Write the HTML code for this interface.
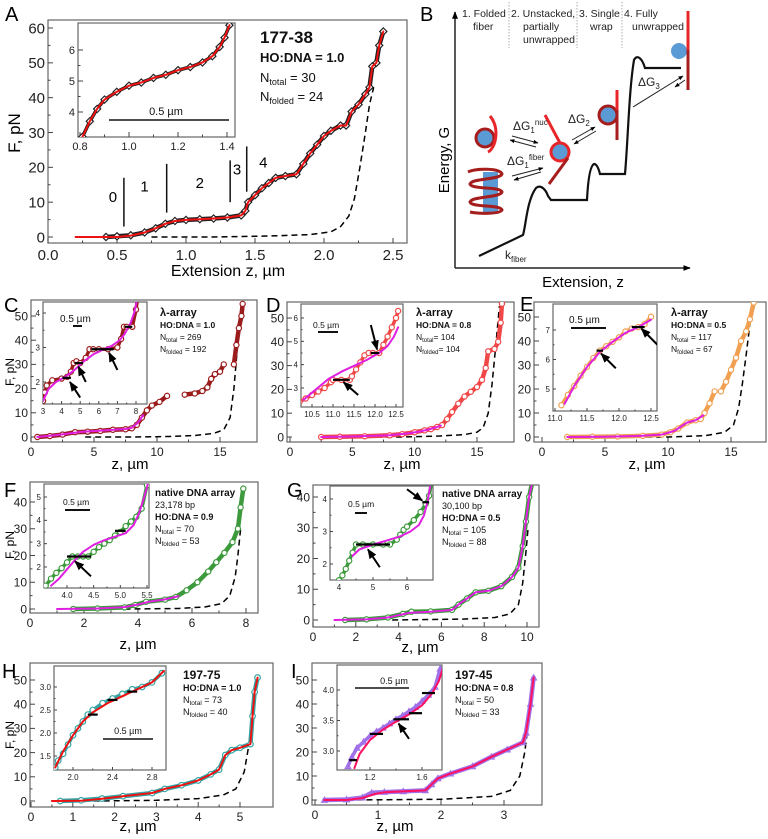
<!DOCTYPE html>
<html><head><meta charset="utf-8"><style>
html,body{margin:0;padding:0;background:#fff}
svg{display:block;font-family:"Liberation Sans",Arial,sans-serif}
</style></head><body>
<svg id="fig" width="768" height="839" viewBox="0 0 768 839" xmlns="http://www.w3.org/2000/svg">
<rect width="768" height="839" fill="#fff"/>
<defs>
<marker id="ah" viewBox="0 0 10 10" refX="9" refY="5" markerWidth="5" markerHeight="5" orient="auto"><path d="M0,1 L10,5 L0,9 z" fill="#000"/></marker>
</defs>
<g font-size="20" fill="#000">
<text x="5" y="21">A</text>
<text x="420" y="21">B</text>
<text x="4" y="312">C</text>
<text x="266" y="312">D</text>
<text x="520" y="311">E</text>
<text x="4" y="497">F</text>
<text x="287" y="497">G</text>
<text x="2" y="678">H</text>
<text x="291" y="678">I</text>
</g>
<g fill="#000">
<text x="228" y="276" font-size="16" text-anchor="middle">Extension z, µm</text>
<text transform="translate(20,133) rotate(-90)" font-size="17" text-anchor="middle">F, pN</text>
<text x="130" y="469" font-size="15" text-anchor="middle">z, µm</text>
<text x="402" y="469" font-size="15" text-anchor="middle">z, µm</text>
<text x="647" y="469" font-size="15" text-anchor="middle">z, µm</text>
<text transform="translate(14,372) rotate(-90)" font-size="12" text-anchor="middle">F, pN</text>
<text x="138" y="649" font-size="15" text-anchor="middle">z, µm</text>
<text x="420" y="652" font-size="15" text-anchor="middle">z, µm</text>
<text transform="translate(14,545) rotate(-90)" font-size="12" text-anchor="middle">F, pN</text>
<text x="138" y="831" font-size="15" text-anchor="middle">z, µm</text>
<text x="395" y="831" font-size="15" text-anchor="middle">z, µm</text>
<text transform="translate(14,735) rotate(-90)" font-size="12" text-anchor="middle">F, pN</text>
</g>

<g id="panelB">
<line x1="455" y1="268" x2="455" y2="12" stroke="#222" stroke-width="1.5" marker-end="url(#ah)"/>
<line x1="455" y1="268" x2="690" y2="268" stroke="#222" stroke-width="1.5" marker-end="url(#ah)"/>
<text transform="translate(449,160) rotate(-90)" font-size="15" text-anchor="middle">Energy, G</text>
<text x="583" y="287" font-size="15" text-anchor="middle">Extension, z</text>
<g stroke="#999" stroke-width="0.8" stroke-dasharray="1.5,1.5">
<line x1="509" y1="2" x2="509" y2="48"/><line x1="577" y1="2" x2="577" y2="48"/><line x1="622" y1="2" x2="622" y2="48"/>
</g>
<g font-size="10.5" fill="#222">
<text x="462" y="17">1. Folded</text><text x="473" y="30">fiber</text>
<text x="511" y="17">2. Unstacked,</text><text x="523" y="30">partially</text><text x="523" y="43">unwrapped</text>
<text x="579" y="17">3. Single</text><text x="590" y="30">wrap</text>
<text x="624" y="17">4. Fully</text><text x="632" y="30">unwrapped</text>
</g>
<path d="M479,256 L523,235 C526,225 527,200 536,188 C541,184 546,190 548,196 L551,200 L587,200 C588,180 590,166 594,164 C597,164 599,170 600,174 L625,174 C628,140 629,90 634,60 C637,54 642,58 645,68 L681,68" fill="none" stroke="#111" stroke-width="2.2"/>
<g>
<rect x="483" y="172" width="15" height="42" fill="#5b9bd5"/>
<path d="M468,172 C476,168 500,168 502,174 C500,180 472,178 470,184 C472,190 500,186 502,192 C500,198 472,196 470,202 C472,208 500,204 502,210 C500,214 480,214 470,212" fill="none" stroke="#a51d1d" stroke-width="3"/>
</g>
<g>
<circle cx="485" cy="138" r="9" fill="#5b9bd5" stroke="#a51d1d" stroke-width="3"/>
<path d="M490,116 C500,128 496,148 488,152" fill="none" stroke="#e8262a" stroke-width="3"/>
<circle cx="560" cy="152" r="9" fill="#5b9bd5" stroke="#e8262a" stroke-width="3"/>
<line x1="545" y1="115" x2="560" y2="143" stroke="#e8262a" stroke-width="3"/>
<line x1="568" y1="158" x2="549" y2="184" stroke="#a51d1d" stroke-width="3"/>
<circle cx="608" cy="115" r="9" fill="#5b9bd5" stroke="#a51d1d" stroke-width="3"/>
<line x1="617" y1="90" x2="617" y2="110" stroke="#e8262a" stroke-width="3"/>
<line x1="617" y1="110" x2="617" y2="140" stroke="#a51d1d" stroke-width="3"/>
<circle cx="679" cy="51" r="8" fill="#5b9bd5"/>
<line x1="688" y1="11" x2="688" y2="50" stroke="#e8262a" stroke-width="3"/>
<line x1="688" y1="50" x2="688" y2="90" stroke="#a51d1d" stroke-width="3"/>
</g>
<g stroke="#222" stroke-width="1">
<line x1="512" y1="136" x2="538" y2="143" marker-end="url(#ah)"/><line x1="536" y1="147" x2="510" y2="140" marker-end="url(#ah)"/>
<line x1="512" y1="176" x2="543" y2="168" marker-end="url(#ah)"/><line x1="541" y1="172" x2="514" y2="180" marker-end="url(#ah)"/>
<line x1="572" y1="140" x2="595" y2="127" marker-end="url(#ah)"/><line x1="596" y1="131" x2="574" y2="144" marker-end="url(#ah)"/>
<line x1="633" y1="107" x2="683" y2="76" marker-end="url(#ah)"/><line x1="685" y1="80" x2="675" y2="87" marker-end="url(#ah)"/>
</g>
<g font-size="12" fill="#222">
<text x="513" y="130">ΔG<tspan font-size="8" dy="3">1</tspan><tspan font-size="8" dy="-8">nuc</tspan></text>
<text x="507" y="165">ΔG<tspan font-size="8" dy="3">1</tspan><tspan font-size="8" dy="-8">fiber</tspan></text>
<text x="568" y="123">ΔG<tspan font-size="8" dy="3">2</tspan></text>
<text x="638" y="86">ΔG<tspan font-size="8" dy="3">3</tspan></text>
<text x="505" y="259">k<tspan font-size="8" dy="3">fiber</tspan></text>
</g>
</g>

<g id="plots"></g>
</svg>
<script>
// ===== DATA =====
const aDataX=[0.42,0.5,0.6,0.7,0.78,0.85,0.92,1.0,1.1,1.2,1.3,1.4,1.43,1.45,1.5,1.55,1.6,1.65,1.72,1.8,1.85,1.9,1.95,2.0,2.05,2.12,2.16,2.2,2.25,2.3,2.33,2.35,2.38,2.4,2.43];
const aDataY=[0,0.2,0.5,1.3,2.5,3.8,4.6,4.9,5.1,5.3,5.6,6.2,7.5,10,12,14,15.5,17,17.5,18,21,24,26.5,29,30.5,32,32,36,38,41,43,49,50,55,59];
const aFitX=[0.2,0.5,0.6,0.7,0.78,0.85,0.92,1.0,1.1,1.2,1.3,1.4,1.43,1.45,1.5,1.55,1.6,1.65,1.72,1.8,1.85,1.9,1.95,2.0,2.05,2.12,2.16,2.2,2.25,2.3,2.33,2.35,2.38,2.4,2.43];
const aFitY=[0,0,0.4,1.3,2.5,3.8,4.6,4.9,5.1,5.3,5.6,6.2,7.5,10,12,14,15.5,17,17.5,18,21,24,26.5,29,30.5,32,32,36,38,41,43,49,50,55,59];
const aWlcX=[0.75,1.2,1.6,1.9,2.05,2.12,2.18,2.22,2.26,2.3,2.33,2.36];
const aWlcY=[0,0,0.3,0.7,1.5,3,6,11,20,30,38,43];
const aInX=[0.81,0.84,0.87,0.9,0.95,1.0,1.05,1.1,1.15,1.2,1.25,1.3,1.34,1.37,1.39,1.41];
const aInY=[3.2,3.7,4.1,4.4,4.65,4.85,4.95,5.1,5.2,5.35,5.45,5.6,5.8,6.1,6.4,6.8];
const cDataX=[0.5,1.5,2.5,3.5,4.5,5.5,6.5,7.5,8,8.4,8.8,9.2,9.6,10.2,10.8,null,12.2,13,13.6,14,14.3,14.6,15,15.3,null,16.1,16.3,16.5,16.7,16.8];
const cDataY=[0,0.4,1,2,2.2,2.5,3,3.2,3.6,5,8,11,13,14.5,17,null,17.5,18,19,20.5,24,26,27,30,null,30,38,45,50,55];
const cFitX=[0.5,2,4,6,7.5,8,8.5,8.9];
const cFitY=[0,0.8,2.1,2.8,3.3,3.8,6,9];
const cWlcX=[4.3,8,11,13,14.5,15.3,15.8,16.1,16.3,16.5,16.7];
const cWlcY=[0,0,0.2,0.6,1.5,3,8,20,32,45,54];
const cInX=[3,3.1,3.2,3.5,4,4.3,4.5,4.65,4.8,5,5.3,5.5,5.7,6,6.5,7,7.2,7.35,7.5,7.8,8,8.1];
const cInY=[1.45,1.7,1.9,2.05,2.1,2.15,2.3,2.55,2.6,2.55,2.7,2.95,2.95,2.95,2.95,3.0,3.25,3.6,3.6,3.6,4.1,4.5];
const cInFitX=[3,3.3,3.7,4.2,4.7,5.2,5.7,6.2,6.7,7.1,7.4,7.7,7.9,8.1];
const cInFitY=[1.45,1.8,2.0,2.15,2.35,2.6,2.8,2.93,3.05,3.2,3.4,3.7,4.0,4.5];
const dDataX=[2.5,4,6,8,9,10,10.8,11.3,11.8,12.2,12.6,13,13.5,14,14.5,15,15.4,15.7,15.9,16.4,16.7,16.9,17];
const dDataY=[0,0.1,0.3,0.7,1.2,2,2.8,3.3,4.2,5,7.5,10.5,14,17,19,21,24,29,36,37,40,48,56];
const dFitX=[2.5,5,8,9.5,10.5,11.2,11.8,12.1];
const dFitY=[0,0.2,0.7,1.5,2.4,3.3,4.2,4.8];
const dWlcX=[4.5,9,12,14,15,15.5,15.9,16.2,16.5,16.8];
const dWlcY=[0,0,0.4,1,2,4,10,22,38,55];
const dInX=[10.2,10.35,10.5,10.65,10.8,10.95,11.0,11.2,11.4,11.45,11.55,11.65,11.75,11.85,11.95,12.1,12.2,12.3,12.4,12.5,12.55];
const dInY=[2.4,2.55,2.7,2.85,3.0,3.25,3.35,3.35,3.35,3.5,3.8,4.1,4.4,4.5,4.5,4.5,4.85,5.2,5.6,6.0,6.3];
const dInFitX=[10.3,10.6,10.9,11.2,11.5,11.8,12.1,12.3,12.45,12.55];
const dInFitY=[2.5,2.95,3.4,3.7,3.95,4.2,4.5,4.8,5.2,5.6];
const eDataX=[2,4,6,8,9.5,10.2,10.8,11.5,12.2,12.6,12.9,13.3,13.7,null,14.2,14.6,15,15.4,15.8,16.2,16.5,16.8];
const eDataY=[0,0.1,0.2,0.5,1,2,3.5,6,7,7.5,10,14,19,null,19,23,28,33,40,44,49,56];
const eFitX=[2,5,8,9.5,10.5,11.5,12.2,12.8];
const eFitY=[0,0.1,0.5,1,2.5,6,7,9];
const eWlcX=[4.3,10,13,14.5,15.2,15.6,15.9,16.2,16.5,16.8];
const eWlcY=[0,0,0.6,2,5,12,22,34,47,56];
const eInX=[11.1,11.2,11.3,11.4,11.5,11.6,11.7,11.8,11.9,12.0,12.1,12.2,12.3,12.4,12.5];
const eInY=[4.45,4.8,5.1,5.45,5.75,6.05,6.3,6.45,6.6,6.75,6.95,7.05,7.1,7.2,7.45];
const eInFitX=[11.15,11.3,11.5,11.7,11.9,12.1,12.3,12.5];
const eInFitY=[4.5,5.1,5.75,6.25,6.6,6.9,7.1,7.35];
const fDataX=[1.6,2.5,3.5,3.9,4.3,5,5.4,5.8,6.2,6.6,6.9,7.2,7.5,7.7,7.8,7.9];
const fDataY=[0,0.2,0.6,1.5,2.7,3.5,4.5,7,10,14,17.5,21,25,30,38,45];
const fFitX=[1,2.5,3.5,4,4.4,5,5.5];
const fFitY=[0,0.2,0.7,1.7,2.7,3.6,4.8];
const fWlcX=[3.5,5.5,6.5,7.1,7.4,7.6,7.7,7.8];
const fWlcY=[0,0.2,0.8,2,5,12,20,30];
const fInX=[3.6,3.7,3.8,3.9,4.0,4.1,4.2,4.3,4.4,4.5,4.6,4.7,4.8,4.9,5.0,5.1,5.2,5.3,5.4,5.5];
const fInY=[1.2,1.5,1.75,1.95,2.2,2.45,2.45,2.45,2.45,2.65,2.85,3.0,3.15,3.35,3.5,3.75,3.95,4.15,4.5,5.5];
const fInFitX=[3.7,3.85,4.0,4.15,4.3,4.5,4.7,4.9,5.1,5.25,5.35,5.45,5.52];
const fInFitY=[1.2,1.5,1.9,2.3,2.65,2.95,3.15,3.3,3.45,3.8,4.3,5.0,5.6];
const gDataX=[1.5,2.5,3.5,4.2,4.6,5.5,6.5,6.8,7.2,7.6,8.2,8.8,9.3,9.6,9.8,9.95,10.1,10.25];
const gDataY=[0,0.2,0.8,2,2.7,2.8,3.3,5,7,9,9.5,11,14,17,24,32,40,45];
const gFitX=[1,2.5,3.5,4.5,5.5,6.5,6.8,7.2,7.6,8.2,8.8,9.3,9.6,9.8,9.95,10.1,10.25];
const gFitY=[0,0.2,0.8,2.3,2.7,3.3,5,7,9,9.5,11,14,17,24,32,40,45];
const gWlcX=[3.7,7,8.5,9.2,9.6,9.8,9.95,10.05];
const gWlcY=[0,0.3,0.8,2,5,12,22,30];
const gInX=[3.8,3.9,4.0,4.1,4.2,4.3,4.4,4.5,4.7,5.0,5.3,5.5,5.7,5.8,5.9,6.0,6.2,6.4,6.55,6.65,6.72];
const gInY=[1.1,1.3,1.5,1.65,1.85,2.1,2.35,2.6,2.6,2.6,2.6,2.6,2.75,2.9,3.05,3.15,3.35,3.6,3.85,4.1,4.5];
const gInFitX=[4.4,4.6,5.0,5.4,5.8,6.1,6.35,6.5,6.6,6.7];
const gInFitY=[2.25,2.45,2.6,2.72,2.85,3.0,3.2,3.5,3.9,4.5];
const hDataX=[0.7,1.2,1.7,2.2,2.9,3.2,3.6,4.0,4.3,4.5,4.65,4.8,5.0,5.25,5.3,5.35,5.42];
const hDataY=[0,0.3,1,2,3.3,5,6.5,8.5,11,13,19,21,22,23.5,35,45,51];
const hFitX=[0.5,1.2,1.7,2.2,2.9,3.2,3.6,4.0,4.3,4.5,4.65,4.8,5.0,5.25,5.3,5.35,5.42];
const hFitY=[0,0.1,0.9,2,3.3,5,6.5,8.5,11,13,19,21,22,23.5,35,45,51];
const hWlcX=[1.5,3,4,4.6,4.9,5.1,5.2,5.28,5.35];
const hWlcY=[0,0.3,1,2.5,5,12,22,32,42];
const hInX=[1.82,1.85,1.9,1.95,2.0,2.05,2.1,2.15,2.2,2.3,2.4,2.5,2.6,2.7,2.8,2.9];
const hInY=[1.25,1.4,1.55,1.75,1.95,2.1,2.25,2.4,2.5,2.65,2.75,2.85,2.95,3.0,3.1,3.3];
const hInFitX=[1.82,1.9,2.0,2.1,2.2,2.35,2.5,2.65,2.8,2.92];
const hInFitY=[1.25,1.6,1.95,2.25,2.45,2.65,2.8,2.95,3.1,3.35];
const iDataX=[0.15,0.5,0.75,0.9,1.1,1.4,1.75,1.85,1.95,2.15,2.5,2.8,3.05,3.3,3.35,3.42,3.47];
const iDataY=[0,0.2,1,3,3.3,3.6,4,6.5,9,11,14,18,21,24,28,40,51];
const iFitX=[0.15,0.5,0.75,0.95,1.1,1.4,1.75,1.85,1.95,2.15,2.5,2.8,3.05,3.3,3.35,3.42,3.47];
const iFitY=[0,0,0.8,2.5,3.2,3.6,4,6.5,9,11,14,18,21,24,28,40,51];
const iWlcX=[0.5,2,2.8,3.1,3.25,3.33,3.4,3.46];
const iWlcY=[0,0.3,1.5,4,10,20,35,50];
const iInX=[1.03,1.06,1.1,1.15,1.2,1.25,1.3,1.35,1.4,1.45,1.5,1.55,1.6,1.65,1.7,1.74];
const iInY=[2.75,2.9,3.05,3.15,3.25,3.32,3.38,3.45,3.52,3.58,3.65,3.72,3.82,3.92,4.05,4.35];
const iInFitX=[1.08,1.12,1.2,1.3,1.4,1.5,1.6,1.68,1.73,1.76];
const iInFitY=[2.72,2.95,3.18,3.35,3.48,3.6,3.75,3.95,4.15,4.35];
const aXTicks=[0,0.5,1,1.5,2,2.5], aYTicks=[0,10,20,30,40,50,60];
const aInXTicks=[0.8,1.0,1.2,1.4], aInYTicks=[4,5,6];
const cXTicks=[0,5,10,15], cYTicks=[0,10,20,30,40,50], cInXTicks=[3,4,5,6,7,8], cInYTicks=[2,3,4];
const dXTicks=[0,5,10,15], dYTicks=[0,10,20,30,40,50], dInXTicks=[10.5,11,11.5,12,12.5], dInYTicks=[3,4,5,6];
const eXTicks=[0,5,10,15], eYTicks=[0,10,20,30,40,50], eInXTicks=[11,11.5,12,12.5], eInYTicks=[5,6,7];
const fXTicks=[0,2,4,6,8], fYTicks=[0,10,20,30,40], fInXTicks=[4,4.5,5,5.5], fInYTicks=[2,3,4,5];
const gXTicks=[0,2,4,6,8,10], gYTicks=[0,10,20,30,40], gInXTicks=[4,5,6], gInYTicks=[2,3,4];
const hXTicks=[0,1,2,3,4,5], hYTicks=[0,10,20,30,40,50], hInXTicks=[2.0,2.4,2.8], hInYTicks=[1.5,2.0,2.5,3.0];
const iXTicks=[0,1,2,3], iYTicks=[0,10,20,30,40,50], iInXTicks=[1.2,1.6], iInYTicks=[3.0,3.5,4.0];

// ===== DRAWING =====
const NS='http://www.w3.org/2000/svg';
const root=document.getElementById('plots');
let clipId=0;
function mk(tag,attrs,parent){const e=document.createElementNS(NS,tag);for(const k in attrs)e.setAttribute(k,attrs[k]);(parent||root).appendChild(e);return e;}
function lin(a,pa,b,pb){return v=>pa+(v-a)*(pb-pa)/(b-a);}
function fmt(v,d){return d>0?v.toFixed(d):String(v);}
function frame(g,box,sx,sy,xt,yt,fs,dx,dy,name,fill){
  const r=mk('rect',{x:box[0],y:box[1],width:box[2]-box[0],height:box[3]-box[1],fill:fill||'none',stroke:'#666','stroke-width':1.2},g);
  
  
  const tg=mk('g',{stroke:'#444','stroke-width':1},g);
  
  
  const lg=mk('g',{'font-size':fs,fill:'#222'},g);
  
  
  const mj=fs>10?5:3;
  xt.forEach((v,i)=>{const x=sx(v);
    mk('line',{x1:x,y1:box[3],x2:x,y2:box[3]-mj},tg);
    if(i<xt.length-1){const xm=sx((v+xt[i+1])/2);mk('line',{x1:xm,y1:box[3],x2:xm,y2:box[3]-mj/2},tg);}
    const t=mk('text',{x:x,y:box[3]+fs+2,'text-anchor':'middle'},lg);t.textContent=fmt(v,dx);});
  yt.forEach((v,i)=>{const y=sy(v);
    mk('line',{x1:box[0],y1:y,x2:box[0]+mj,y2:y},tg);
    if(i<yt.length-1){const ym=sy((v+yt[i+1])/2);mk('line',{x1:box[0],y1:ym,x2:box[0]+mj/2,y2:ym},tg);}
    const t=mk('text',{x:box[0]-3,y:y+fs*0.36,'text-anchor':'end'},lg);t.textContent=fmt(v,dy);});
}
function clipG(g,box){
  const id='cl'+(clipId++);
  const cp=mk('clipPath',{id:id},g);mk('rect',{x:box[0],y:box[1],width:box[2]-box[0],height:box[3]-box[1]},cp);
  return mk('g',{'clip-path':'url(#'+id+')'},g);
}
function pathD(xs,ys,sx,sy){let d='',pen=false;for(let i=0;i<xs.length;i++){if(xs[i]===null){pen=false;continue;}d+=(pen?'L':'M')+sx(xs[i]).toFixed(1)+','+sy(ys[i]).toFixed(1);pen=true;}return d;}
function line(g,xs,ys,sx,sy,col,w,dash,name){
  const p=mk('path',{d:pathD(xs,ys,sx,sy),fill:'none',stroke:col,'stroke-width':w,'stroke-linejoin':'round','stroke-linecap':'round'},g);
  if(dash){p.setAttribute('stroke-dasharray',dash);p.setAttribute('stroke-linecap','butt');}
  
  
}
function markers(g,xs,ys,sx,sy,col,shape,r,name){
  const mg=mk('g',{fill:'none',stroke:col,'stroke-width':1.2},g);
  
  
  for(let i=0;i<xs.length;i++){if(xs[i]===null)continue;const x=sx(xs[i]),y=sy(ys[i]);
    if(shape==='diamond')mk('path',{d:`M${x},${y-r}L${x+r},${y}L${x},${y+r}L${x-r},${y}z`,fill:'#fff'},mg);
    else if(shape==='tri')mk('path',{d:`M${x},${y-r}L${x+r},${y+r*0.8}L${x-r},${y+r*0.8}z`},mg);
    else mk('circle',{cx:x,cy:y,r:r,fill:'#fff'},mg);}
}
function panel(P){
  const g=mk('g',{});
  
  
  const sx=lin(P.xm[0],P.xm[1],P.xm[2],P.xm[3]), sy=lin(P.ym[0],P.ym[1],P.ym[2],P.ym[3]);
  frame(g,P.box,sx,sy,P.xt,P.yt,P.fs,P.dx,P.dy,P.name,'#fff');
  const cg=clipG(g,P.box);
  line(cg,P.wx,P.wy,sx,sy,'#000',1.5,'6,4',P.name+'-wlc-dashed-curve');
  line(cg,P.dxs,P.dys,sx,sy,P.col,4.5,null,P.name+'-data-trace');
  markers(cg,P.dxs,P.dys,sx,sy,P.col,P.shape,P.mr,P.name+'-data-markers');
  line(cg,P.fx,P.fy,sx,sy,P.fcol,2,null,P.name+'-fit-curve');
  const I=P.inset;
  const isx=lin(I.xm[0],I.xm[1],I.xm[2],I.xm[3]), isy=lin(I.ym[0],I.ym[1],I.ym[2],I.ym[3]);
  const ig=mk('g',{},g);
  
  
  frame(ig,I.box,isx,isy,I.xt,I.yt,I.fs,I.dx,I.dy,P.name+'-inset','#fff');
  const icg=clipG(ig,I.box);
  line(icg,I.x,I.y,isx,isy,P.col,3.5,null,P.name+'-inset-data-trace');
  markers(icg,I.x,I.y,isx,isy,P.col,P.shape,P.mr,P.name+'-inset-data-markers');
  line(icg,I.fx,I.fy,isx,isy,P.fcol,2,null,P.name+'-inset-fit-curve');
  (I.steps||[]).forEach(s=>{const l=mk('line',{x1:isx(s[0]),y1:isy(s[2]),x2:isx(s[1]),y2:isy(s[2]),stroke:'#000','stroke-width':2.2},icg);
    
    });
  (I.arrows||[]).forEach(a=>{const l=mk('line',{x1:isx(a[0]),y1:isy(a[1]),x2:isx(a[2]),y2:isy(a[3]),stroke:'#000','stroke-width':2,'marker-end':'url(#ah)'},icg);
    
    });
  return g;
}
const PANELS=[
 {name:'panel-a',box:[48,20,407,243],xm:[0,48,2.5,393],ym:[0,237,60,28],xt:aXTicks,yt:aYTicks,fs:15,dx:1,dy:0,
  dxs:aDataX,dys:aDataY,fx:aFitX,fy:aFitY,wx:aWlcX,wy:aWlcY,col:'#222',fcol:'#ee1111',shape:'diamond',mr:3.6,
  inset:{box:[78,23,235,137],xm:[0.8,80,1.4,227],ym:[4,112,6,50],xt:aInXTicks,yt:aInYTicks,fs:11,dx:1,dy:0,x:aInX,y:aInY,fx:aInX,fy:aInY}},
 {name:'panel-c',box:[31,300,257,442],xm:[0,31,15,220],ym:[0,437,50,316],xt:cXTicks,yt:cYTicks,fs:12,dx:0,dy:0,
  dxs:cDataX,dys:cDataY,fx:cFitX,fy:cFitY,wx:cWlcX,wy:cWlcY,col:'#9b1c1c',fcol:'#e020e0',shape:'circle',mr:2.6,
  inset:{box:[43,302,147,404],xm:[3,43,8,136],ym:[2,382,4,313],xt:cInXTicks,yt:cInYTicks,fs:8,dx:0,dy:0,x:cInX,y:cInY,fx:cInFitX,fy:cInFitY,
   steps:[[4.05,4.5,2.12],[4.7,5.15,2.55],[5.6,6.8,2.95],[7.4,7.8,3.6]],arrows:[[5,1.55,4.45,2.0],[5.3,2.0,4.9,2.45],[7.0,2.35,6.55,2.85]]}},
 {name:'panel-d',box:[287,302,514,442],xm:[0,290,15,477],ym:[0,437,50,318],xt:dXTicks,yt:dYTicks,fs:12,dx:0,dy:0,
  dxs:dDataX,dys:dDataY,fx:dFitX,fy:dFitY,wx:dWlcX,wy:dWlcY,col:'#f04848',fcol:'#e020e0',shape:'circle',mr:2.6,
  inset:{box:[301,304,403,407],xm:[10.5,312,12.5,396],ym:[3,388,6,318],xt:dInXTicks,yt:dInYTicks,fs:8,dx:1,dy:0,x:dInX,y:dInY,fx:dInFitX,fy:dInFitY,
   steps:[[11.0,11.4,3.35],[11.9,12.1,4.5]],arrows:[[11.6,2.7,11.25,3.25],[11.9,5.7,12.05,4.65]]}},
 {name:'panel-e',box:[534,302,766,442],xm:[0,542,15,731],ym:[0,437,50,317],xt:eXTicks,yt:eYTicks,fs:12,dx:0,dy:0,
  dxs:eDataX,dys:eDataY,fx:eFitX,fy:eFitY,wx:eWlcX,wy:eWlcY,col:'#f0a050',fcol:'#e020e0',shape:'circle',mr:2.6,
  inset:{box:[553,304,657,411],xm:[11,555,12.5,651],ym:[5,389,7,330],xt:eInXTicks,yt:eInYTicks,fs:8,dx:1,dy:0,x:eInX,y:eInY,fx:eInFitX,fy:eInFitY,
   steps:[[11.65,11.75,6.3],[12.2,12.4,7.1]],arrows:[[11.95,5.7,11.72,6.2],[12.6,6.5,12.35,7.05]]}},
 {name:'panel-f',box:[30,482,258,613],xm:[0,30,8,246],ym:[0,609,40,502],xt:fXTicks,yt:fYTicks,fs:12,dx:0,dy:0,
  dxs:fDataX,dys:fDataY,fx:fFitX,fy:fFitY,wx:fWlcX,wy:fWlcY,col:'#3c9a3c',fcol:'#e020e0',shape:'circle',mr:2.6,
  inset:{box:[44,484,149,588],xm:[4,67,5.5,147],ym:[2,567,5,497],xt:fInXTicks,yt:fInYTicks,fs:8,dx:1,dy:0,x:fInX,y:fInY,fx:fInFitX,fy:fInFitY,
   steps:[[4.0,4.45,2.45],[4.9,5.1,3.55]],arrows:[[4.45,1.6,4.15,2.25]]}},
 {name:'panel-g',box:[313,485,539,627],xm:[0,313,10,527],ym:[0,620,40,497],xt:gXTicks,yt:gYTicks,fs:12,dx:0,dy:0,
  dxs:gDataX,dys:gDataY,fx:gFitX,fy:gFitY,wx:gWlcX,wy:gWlcY,col:'#3c9a3c',fcol:'#e020e0',shape:'circle',mr:2.6,
  inset:{box:[330,486,433,580],xm:[4,339,6,407],ym:[2,564,4,499],xt:gInXTicks,yt:gInYTicks,fs:8,dx:0,dy:0,x:gInX,y:gInY,fx:gInFitX,fy:gInFitY,
   steps:[[4.5,5.5,2.6],[6.45,6.65,3.9]],arrows:[[5.2,1.9,4.85,2.45],[6.0,4.3,6.45,3.95]]}},
 {name:'panel-h',box:[30,663,273,807],xm:[0,31,5,240],ym:[0,801,50,680],xt:hXTicks,yt:hYTicks,fs:12,dx:0,dy:0,
  dxs:hDataX,dys:hDataY,fx:hFitX,fy:hFitY,wx:hWlcX,wy:hWlcY,col:'#35a5a5',fcol:'#ee1111',shape:'circle',mr:2.8,
  inset:{box:[54,666,166,770],xm:[2.0,73,2.8,152],ym:[1.5,756,3.0,687],xt:hInXTicks,yt:hInYTicks,fs:8,dx:1,dy:1,x:hInX,y:hInY,fx:hInFitX,fy:hInFitY,
   steps:[[2.15,2.25,2.4],[2.35,2.45,2.72],[2.55,2.65,2.9]]}},
 {name:'panel-i',box:[312,663,542,805],xm:[0,315,3,504],ym:[0,800,50,680],xt:iXTicks,yt:iYTicks,fs:12,dx:0,dy:0,
  dxs:iDataX,dys:iDataY,fx:iFitX,fy:iFitY,wx:iWlcX,wy:iWlcY,col:'#a070e8',fcol:'#ff1060',shape:'tri',mr:2.8,
  inset:{box:[337,665,442,770],xm:[1.2,370,1.6,422],ym:[3.0,751,4.0,690],xt:iInXTicks,yt:iInYTicks,fs:8,dx:1,dy:1,x:iInX,y:iInY,fx:iInFitX,fy:iInFitY,
   steps:[[1.04,1.1,2.85],[1.2,1.3,3.28],[1.38,1.5,3.52],[1.5,1.6,3.62],[1.6,1.7,3.95]],arrows:[[1.5,3.2,1.42,3.45]]}}
];
PANELS.forEach(panel);

const sxA=lin(0,48,2.5,393), syA=lin(0,237,60,28);
const aBounds=[[0.55,3,17],[0.86,7,21],[1.32,10,22],[1.44,13,26]];
const aStateLabels=['0','1','2','3','4'];
const aStatePos=[[0.47,10],[0.7,13],[1.1,14],[1.37,18],[1.56,20]];
const ann=mk('g',{});


aBounds.forEach(b=>{mk('line',{x1:sxA(b[0]),y1:syA(b[1]),x2:sxA(b[0]),y2:syA(b[2]),stroke:'#111','stroke-width':1.5},ann);});
aStateLabels.forEach((s,i)=>{const t=mk('text',{x:sxA(aStatePos[i][0]),y:syA(aStatePos[i][1]),'font-size':15,'text-anchor':'middle'},ann);t.textContent=s;});
</script>
<svg style="position:absolute;left:0;top:0" width="768" height="839">
<g font-family="Liberation Sans, Arial, sans-serif" fill="#111">
<g>
<text x="260" y="43" font-size="17" font-weight="bold">177-38</text>
<text x="260" y="62" font-size="13" font-weight="bold">HO:DNA = 1.0</text>
<text x="260" y="82" font-size="13">N<tspan font-size="9" dy="3">total</tspan><tspan dy="-3"> = 30</tspan></text>
<text x="260" y="101" font-size="13">N<tspan font-size="9" dy="3">folded</tspan><tspan dy="-3"> = 24</tspan></text>
<line x1="109" y1="120" x2="229" y2="120" stroke="#111" stroke-width="1.5"/>
<text x="166" y="115" font-size="11" text-anchor="middle">0.5 µm</text>
</g>
<g>
<text x="160" y="316" font-size="11" font-weight="bold">λ-array</text>
<text x="160" y="328" font-size="8.5" font-weight="bold">HO:DNA = 1.0</text>
<text x="160" y="340" font-size="8.5">N<tspan font-size="6" dy="2">total</tspan><tspan dy="-2"> = 269</tspan></text>
<text x="160" y="352" font-size="8.5">N<tspan font-size="6" dy="2">folded</tspan><tspan dy="-2"> = 192</tspan></text>
<text x="60" y="322" font-size="10">0.5 µm</text>
<line x1="73" y1="326" x2="82" y2="326" stroke="#111" stroke-width="2"/>
</g>
<g>
<text x="416" y="316" font-size="11" font-weight="bold">λ-array</text>
<text x="416" y="328" font-size="8.5" font-weight="bold">HO:DNA = 0.8</text>
<text x="416" y="340" font-size="8.5">N<tspan font-size="6" dy="2">total</tspan><tspan dy="-2">= 104</tspan></text>
<text x="416" y="352" font-size="8.5">N<tspan font-size="6" dy="2">folded</tspan><tspan dy="-2">= 104</tspan></text>
<text x="313" y="328" font-size="8.5">0.5 µm</text>
<line x1="318" y1="332" x2="338" y2="332" stroke="#111" stroke-width="2"/>
</g>
<g>
<text x="671" y="316" font-size="11" font-weight="bold">λ-array</text>
<text x="671" y="328" font-size="8.5" font-weight="bold">HO:DNA = 0.5</text>
<text x="671" y="340" font-size="8.5">N<tspan font-size="6" dy="2">total</tspan><tspan dy="-2"> = 117</tspan></text>
<text x="671" y="352" font-size="8.5">N<tspan font-size="6" dy="2">folded</tspan><tspan dy="-2"> = 67</tspan></text>
<text x="569" y="323" font-size="10">0.5 µm</text>
<line x1="571" y1="328" x2="606" y2="328" stroke="#111" stroke-width="2"/>
</g>
<g>
<text x="155" y="496" font-size="10" font-weight="bold">native DNA array</text>
<text x="155" y="508" font-size="9">23,178 bp</text>
<text x="155" y="520" font-size="9" font-weight="bold">HO:DNA = 0.9</text>
<text x="155" y="532" font-size="9">N<tspan font-size="6.5" dy="2">total</tspan><tspan dy="-2"> = 70</tspan></text>
<text x="155" y="544" font-size="9">N<tspan font-size="6.5" dy="2">folded</tspan><tspan dy="-2"> = 53</tspan></text>
<text x="63" y="505" font-size="8.5">0.5 µm</text>
<line x1="65" y1="510" x2="90" y2="510" stroke="#111" stroke-width="2"/>
</g>
<g>
<text x="442" y="497" font-size="10" font-weight="bold">native DNA array</text>
<text x="442" y="509" font-size="9">30,100 bp</text>
<text x="442" y="521" font-size="9" font-weight="bold">HO:DNA = 0.5</text>
<text x="442" y="533" font-size="9">N<tspan font-size="6.5" dy="2">total</tspan><tspan dy="-2"> = 105</tspan></text>
<text x="442" y="545" font-size="9">N<tspan font-size="6.5" dy="2">folded</tspan><tspan dy="-2"> = 88</tspan></text>
<text x="348" y="507" font-size="8.5">0.5 µm</text>
<line x1="355" y1="513" x2="367" y2="513" stroke="#111" stroke-width="2"/>
</g>
<g>
<text x="183" y="679" font-size="12" font-weight="bold">197-75</text>
<text x="183" y="691" font-size="9" font-weight="bold">HO:DNA = 1.0</text>
<text x="183" y="703" font-size="9">N<tspan font-size="6.5" dy="2">total</tspan><tspan dy="-2"> = 73</tspan></text>
<text x="183" y="715" font-size="9">N<tspan font-size="6.5" dy="2">folded</tspan><tspan dy="-2"> = 40</tspan></text>
<text x="128" y="734" font-size="9" text-anchor="middle">0.5 µm</text>
<line x1="103" y1="739" x2="153" y2="739" stroke="#111" stroke-width="1.5"/>
</g>
<g>
<text x="455" y="679" font-size="12" font-weight="bold">197-45</text>
<text x="455" y="691" font-size="9" font-weight="bold">HO:DNA = 0.8</text>
<text x="455" y="703" font-size="9">N<tspan font-size="6.5" dy="2">total</tspan><tspan dy="-2"> = 50</tspan></text>
<text x="455" y="715" font-size="9">N<tspan font-size="6.5" dy="2">folded</tspan><tspan dy="-2"> = 33</tspan></text>
<text x="394" y="684" font-size="9" text-anchor="middle">0.5 µm</text>
<line x1="355" y1="688" x2="409" y2="688" stroke="#111" stroke-width="1.5"/>
</g>
</g>
</svg>
</body></html>
